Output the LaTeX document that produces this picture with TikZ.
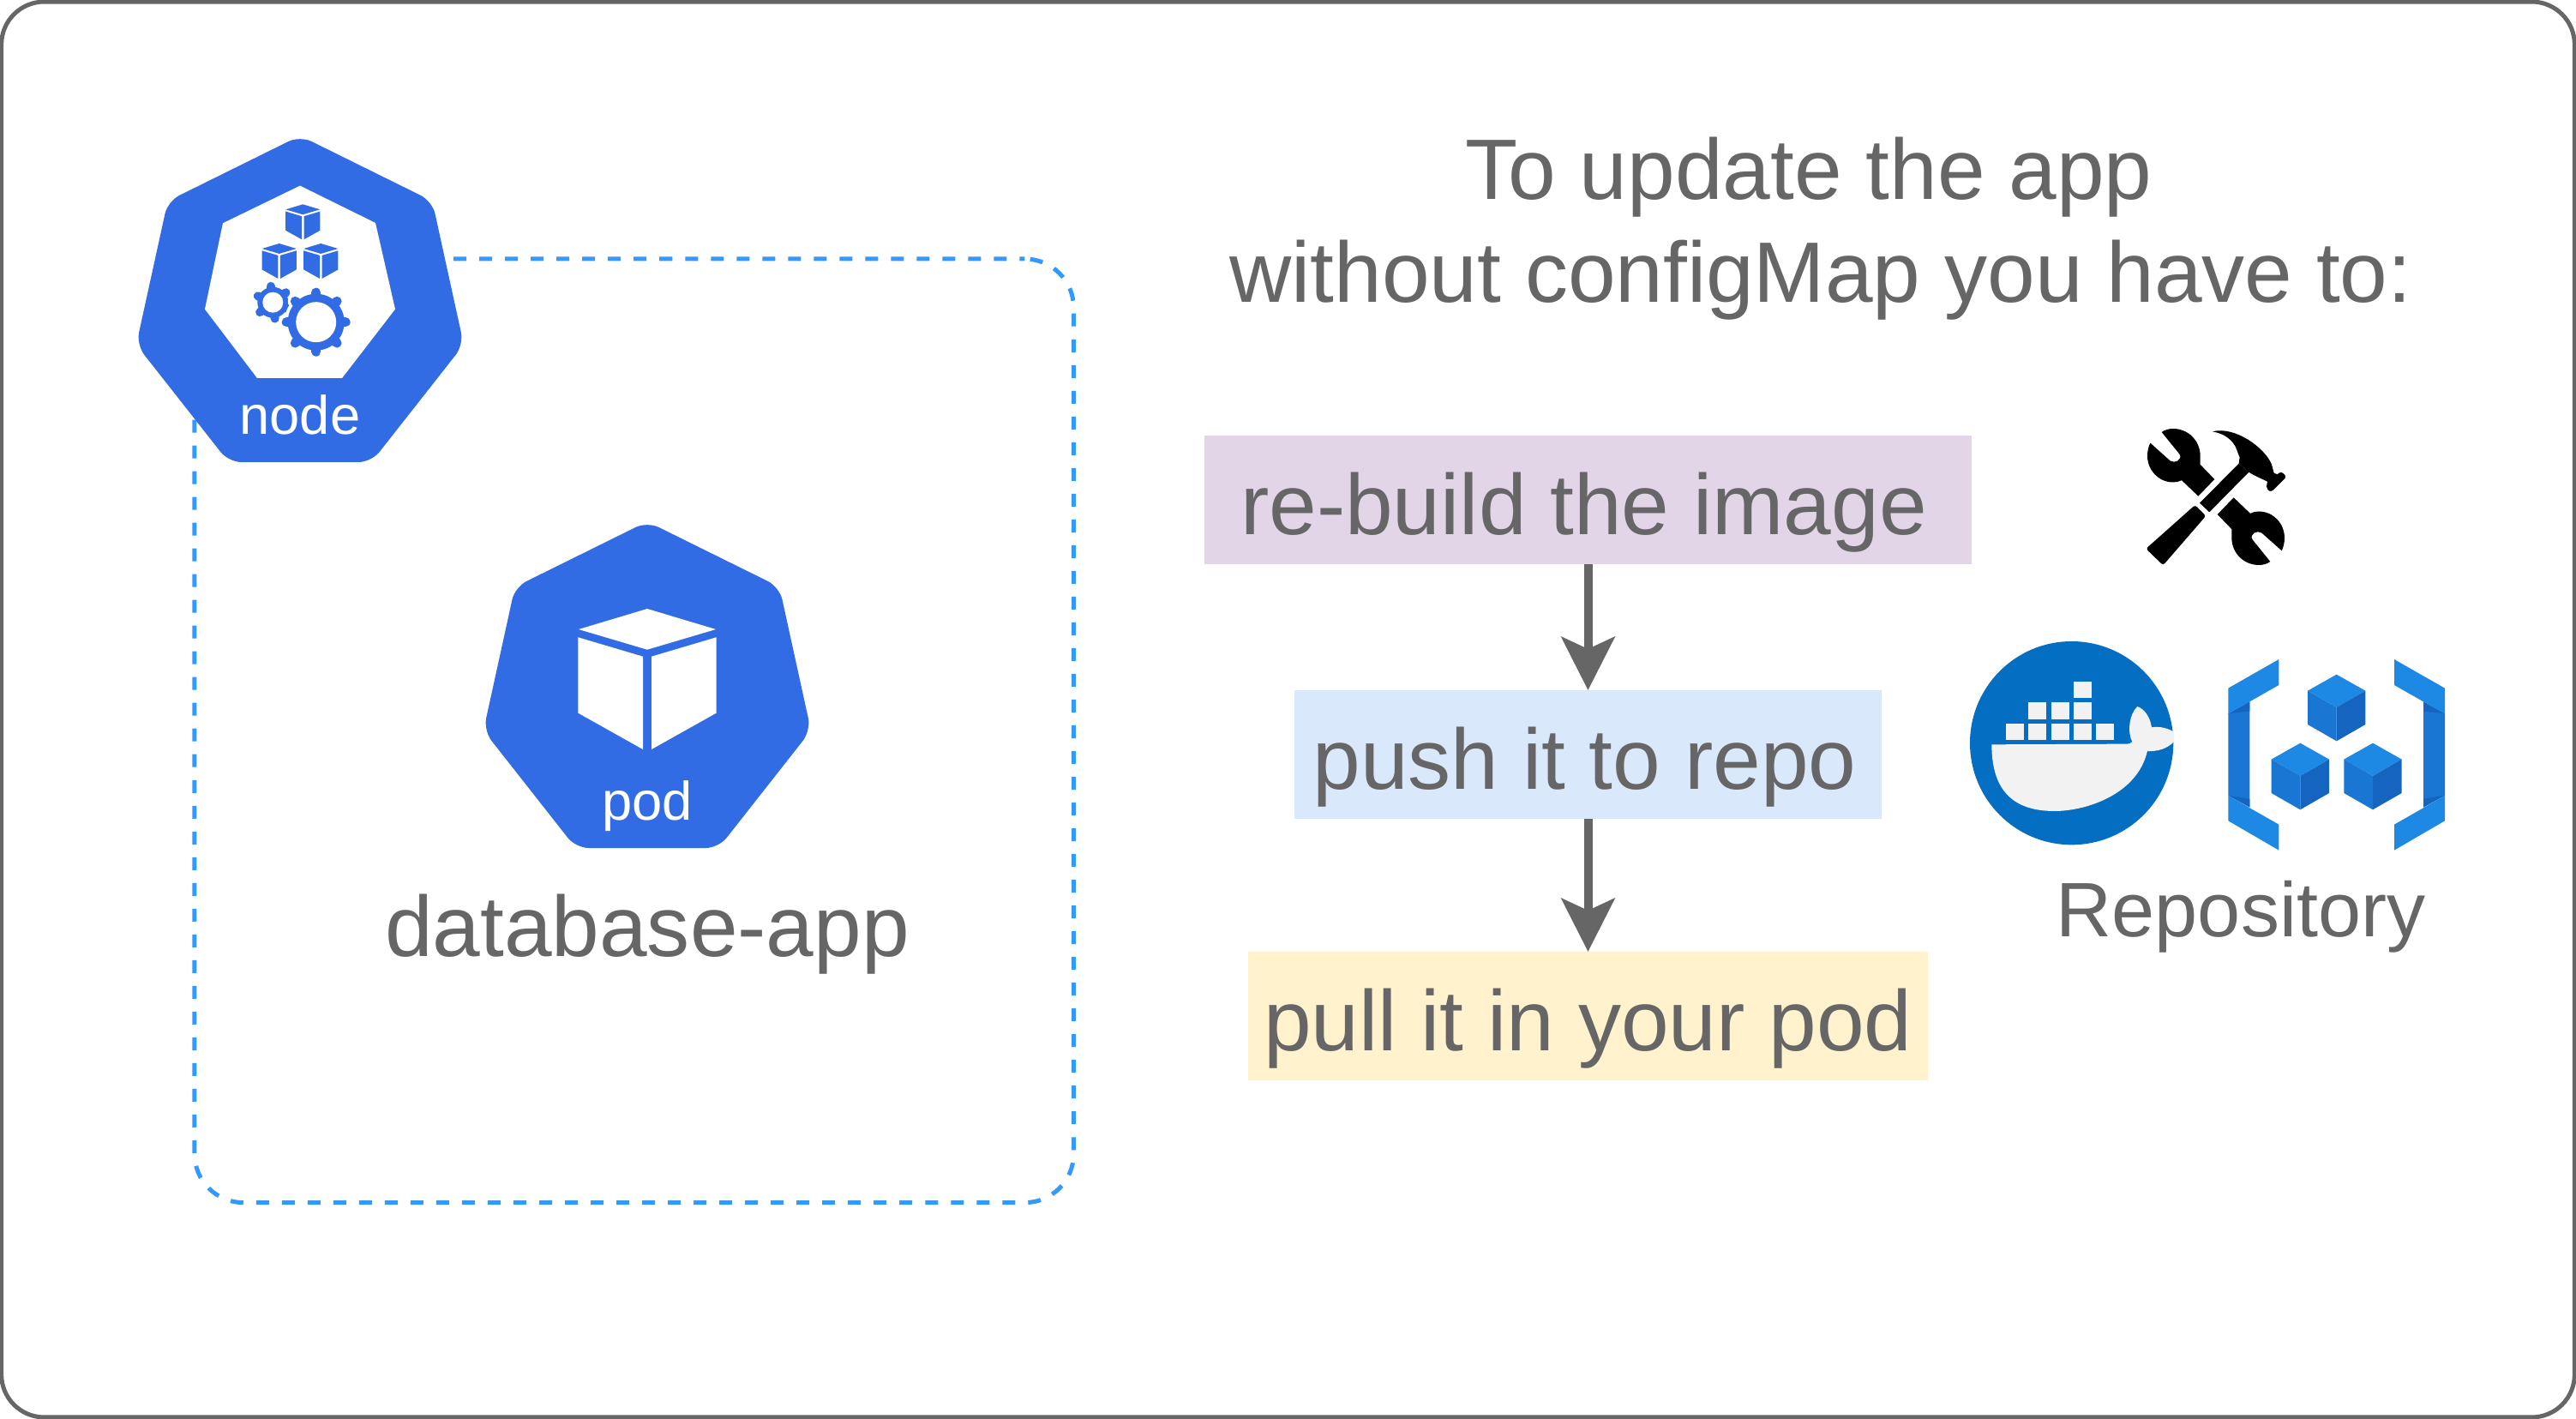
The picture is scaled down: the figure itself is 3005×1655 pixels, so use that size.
\documentclass[tikz,border=0pt]{standalone}
\usepackage{fontspec}
\setmainfont{Liberation Sans}
\usetikzlibrary{arrows.meta}
\definecolor{kubeblue}{HTML}{326CE5}
\definecolor{dashblue}{HTML}{3399FF}
\definecolor{textgray}{HTML}{666666}
\definecolor{dockerblue}{HTML}{046EC3}
\definecolor{repolight}{HTML}{1E88E5}
\definecolor{repomid}{HTML}{1976D2}
\definecolor{repodark}{HTML}{1565C0}

\begin{document}
\begin{tikzpicture}[x=0.01cm,y=-0.01cm,
        >={Stealth[length=.62cm,width=.62cm,inset=.14cm]},
        big text/.style={text=textgray,font=\fontsize{28.45}{34.14}\selectfont},
        small text/.style={text=white,font=\fontsize{18}{21.6}\selectfont,anchor=base},
        step box/.style={big text,minimum height=1.5cm,text height=1cm,text depth=.2cm,inner sep=0pt,outer sep=0pt},
        gear tooth/.style={kubeblue,line cap=round},
        pics/heptagon/.style={code={
            \fill[kubeblue,rounded corners=.15cm] (0,0) -- (154.3,76.3) -- (191,243.7) -- (83.3,380.7)
                -- (-83.3,380.7) -- (-191,243.7) -- (-154.3,76.3) -- cycle;}},
        pics/flatcube/.style={code={
            \fill[#1] (0,0) -- (80,24) -- (0,47.7) -- (-80,24) -- cycle;
            \fill[#1] (-80.6,33.3) -- (-5,55.7) -- (-5,164) -- (-80.6,121.6) -- cycle;
            \fill[#1] (80.6,33.3) -- (5,55.7) -- (5,164) -- (80.6,121.6) -- cycle;}},
        pics/isocube/.style={code={
            \fill[repolight] (0,0) -- (101,57) -- (0,115) -- (-101,57) -- cycle;
            \fill[repomid] (-101,57) -- (0,115) -- (0,233) -- (-101,175) -- cycle;
            \fill[repodark] (101,57) -- (0,115) -- (0,233) -- (101,175) -- cycle;}},
        pics/bracket/.style={code={
            \fill[repomid] (0,190) -- (75,148) -- (75,518) -- (0,476) -- cycle;
            \fill[repodark] (0,190) -- (75,148) -- (75,181) -- cycle;
            \fill[repodark] (0,476) -- (75,518) -- (75,488) -- cycle;
            \fill[repolight] (177,0) -- (177,90) -- (75,148) -- (0,190) -- (0,101) -- cycle;
            \fill[repolight] (0,476) -- (75,520) -- (177,578) -- (177,668) -- (0,565) -- cycle;}},
        pics/wrench/.style={code={
            \fill[black] (-190,-226.5) .. controls (-178,-235) and (-165,-238.5) .. (-150,-238.5)
                .. controls (-97,-238.5) and (-55,-196) .. (-55,-143.5) -- (-55,-113)
                -- (-5,-61.5) -- (-62,-2.5) -- (-120,-58) .. controls (-130,-53) and (-140,-51) .. (-150,-51)
                .. controls (-200,-51) and (-240,-93) .. (-240,-143.5)
                .. controls (-240,-160) and (-236,-177) .. (-230,-188.5) -- (-160,-126)
                .. controls (-145,-115) and (-115,-130) .. (-128,-150) -- cycle;}}]

    \useasboundingbox (0,0) rectangle (3005,1655);

    \node[draw=textgray, line width=.05cm, rounded corners=.5cm, minimum width=30cm, minimum height=16.5cm, inner sep=0pt] (frame) at (1502.5,827.5) {};
    \node[draw=dashblue, line width=.05cm, dash pattern=on .15cm off .15cm, dash phase=.09cm, rounded corners=.57cm, minimum width=10.25cm, minimum height=11cm, inner sep=0pt] (cluster) at (739.7,852.3) {};

    % node and pod
    \pic at (350,158.3) {heptagon};
    \fill[white] (350,216.6) -- (438,260) -- (461,360.6) -- (399,441) -- (300,441) -- (239,360.6) -- (260,260.3) -- cycle;
    \pic[scale=.25] at (353.3,238.3) {flatcube=kubeblue};
    \pic[scale=.25] at (325.7,284) {flatcube=kubeblue};
    \pic[scale=.25] at (374.3,284) {flatcube=kubeblue};
    \foreach \a in {37,97,...,337}
        \draw[gear tooth,line width=.1cm] (318.3,352.7) -- ++(-\a:19);
    \fill[kubeblue] (318.3,352.7) circle (18);
    \fill[white] (318.3,352.7) circle (12);
    \foreach \a in {0,45,...,315}
        \draw[white,line width=.17cm,line cap=round] (368.7,375.7) -- ++(\a:34.5);
    \fill[white] (368.7,375.7) circle (37);
    \foreach \a in {0,45,...,315}
        \draw[gear tooth,line width=.11cm] (368.7,375.7) -- ++(\a:34.5);
    \fill[kubeblue] (368.7,375.7) circle (33);
    \fill[white] (368.7,375.7) circle (23.5);
    \node[small text] (nodelabel) at (350,506.7) {node};

    \pic at (755,608.3) {heptagon};
    \pic at (755,710) {flatcube=white};
    \node[small text] (podlabel) at (755,956.7) {pod};
    \node[big text,anchor=base] (dbapp) at (755,1115) {database-app};

    % title
    \node[big text,align=center,anchor=base] (title) at (2124,353) {To update the app~\mbox{}\\without configMap you have to:};

    % steps
    \node[step box,fill={rgb,255:red,225;green,213;blue,231},minimum width=8.95cm] (0) at (1852.5,583) {re-build the image\hspace*{.1cm}\mbox{}};
    \node[step box,fill={rgb,255:red,218;green,232;blue,252},minimum width=6.84cm] (1) at (1852.5,880) {push it to repo\hspace*{.08cm}\mbox{}};
    \node[step box,fill={rgb,255:red,255;green,242;blue,204},minimum width=7.92cm] (2) at (1852.5,1185) {pull it in your pod};

    \path[->,textgray,line width=.1cm]
    (0) edge (1)
    (1) edge (2);

    % tools
    \begin{scope}[shift={(2470,480)},scale=.3333]
        \pic[scale=.3333] at (345,298.5) {wrench};
        \pic[scale=.3333,rotate=180] at (345,298.5) {wrench};
        \fill[black,rounded corners=.03cm] (272,327) -- (310,365) -- (160,538) -- (100,480) -- cycle;
        \fill[black] (288,320) -- (425,182) -- (460,212) -- (322,352) -- cycle;
        \fill[black] (333,70) .. controls (410,50) and (515,125) .. (540,185) -- (548,215) -- (560,220)
            .. controls (570,208) and (580,212) .. (588,225) .. controls (590,235) and (585,235) .. (580,240)
            -- (545,275) .. controls (535,283) and (525,278) .. (522,262) -- (525,245)
            .. controls (505,235) and (480,225) .. (460,212) -- (425,182) -- (428,160)
            .. controls (420,145) and (418,125) .. (405,110) .. controls (385,85) and (360,75) .. (333,70) -- cycle;
    \end{scope}

    % docker
    \begin{scope}[shift={(2280,730)},scale=.3333]
        \fill[dockerblue] (410,410) circle (356);
        \foreach \x/\y in {180/342,259/342,338/342,417/342,496/342,259/268,338/268,417/268,417/195}
            \fill[black!5] (\x,\y) rectangle ++(63,58);
        \fill[black!5] (130,415) -- (600,413) .. controls (612,413) and (620,410) .. (622,405)
            .. controls (605,375) and (610,310) .. (640,282) .. controls (665,290) and (685,320) .. (690,355)
            .. controls (715,350) and (750,358) .. (768,372) -- (768,405) .. controls (745,430) and (710,440) .. (675,438)
            .. controls (640,590) and (460,648) .. (350,648) .. controls (190,648) and (130,560) .. (130,415) -- cycle;
    \end{scope}

    % repository
    \begin{scope}[shift={(2580,750)},scale=.3333]
        \pic[scale=.3333] at (58,57) {bracket};
        \pic[scale=.3333,xscale=-1] at (816,57) {bracket};
        \pic[scale=.3333] at (437,110) {isocube};
        \pic[scale=.3333] at (310,350) {isocube};
        \pic[scale=.3333] at (564,350) {isocube};
    \end{scope}
    \node[text=textgray,anchor=base,font=\fontsize{25.6}{30.7}\selectfont] (repo) at (2614,1092) {Repository};

\end{tikzpicture}
\end{document}
